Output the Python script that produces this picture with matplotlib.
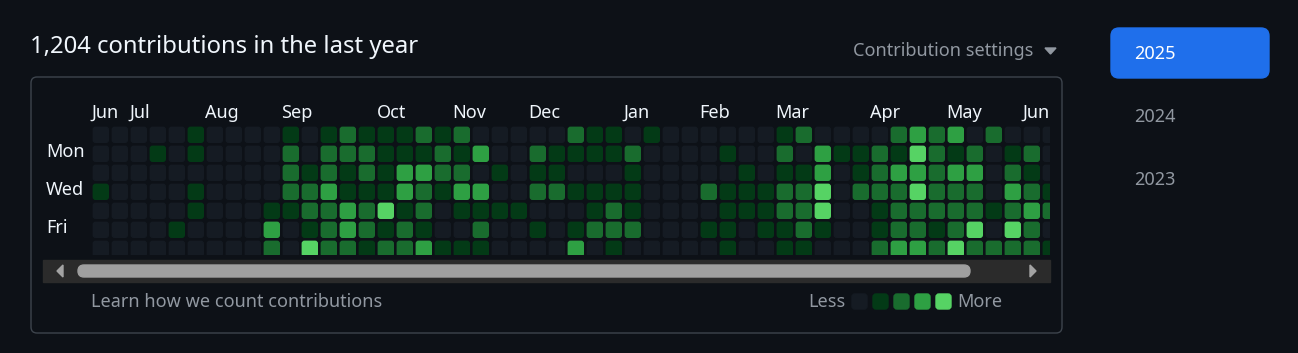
import matplotlib.pyplot as plt
from matplotlib.patches import FancyBboxPatch, Polygon

# contribution level (0-4) per weekday row, one digit per week column
sun = "0000010000" "1012111212" "0000021101" "0000001200" "0023230200" "0"
mon = "0001010000" "2022211121" "3002111120" "0001002031" "1214212012" "0"
tue = "0000000000" "2121213322" "0101100010" "0000101130" "1233233021" "0"
wed = "1000010000" "2231113213" "3002211110" "0021112240" "2224222032" "1"
thu = "0000010001" "1223241201" "1110001210" "0001112240" "0122222123" "2"
fri = "0000100003" "0123212100" "2001012220" "0011011210" "0122124042" "0"
sat = "0000000002" "0422122311" "1000030100" "0001001100" "0233242222" "1"
weekdays = [sun, mon, tue, wed, thu, fri, sat]

month_names = ["Jun", "Jul", "Aug", "Sep", "Oct", "Nov", "Dec", "Jan", "Feb", "Mar", "Apr", "May", "Jun"]
month_weeks = [0, 2, 6, 10, 15, 19, 23, 28, 32, 36, 41, 45, 49]
day_names = ["Mon", "Wed", "Fri"]
day_rows = [1, 3, 5]
years = ["2025", "2024", "2023"]

level_colors = ["#151b23", "#033a16", "#196c2e", "#2ea043", "#56d364"]
bg = "#0d1117"
fg = "#f0f6fc"
muted = "#9198a1"

plt.rcParams['font.family'] = ['Noto Sans', 'DejaVu Sans']

W, H = 1298, 353
fig = plt.figure(figsize=(W / 100, H / 100), dpi=100, facecolor=bg)

# page chrome, in pixel coordinates
ax0 = fig.add_axes([0, 0, 1, 1])
ax0.set_xlim(0, W)
ax0.set_ylim(H, 0)
ax0.axis('off')
ax0.set_facecolor(bg)

ax0.text(30, 47, "1,204 contributions in the last year", color=fg, fontsize=17.2,
         ha='left', va='center')
ax0.text(853, 51, "Contribution settings", color=muted, fontsize=13, ha='left', va='center')
ax0.add_patch(Polygon([[1045, 48], [1056, 48], [1050.5, 54]], closed=True, color=muted))

ax0.add_patch(FancyBboxPatch((31, 77), 1031, 256, boxstyle="round,pad=0,rounding_size=6",
                             facecolor=bg, edgecolor="#3d444d", linewidth=1))

# scrollbar
ax0.add_patch(plt.Rectangle((43, 260), 1007, 22, color="#2b2b2b"))
ax0.add_patch(FancyBboxPatch((78, 265), 892, 12, boxstyle="round,pad=0,rounding_size=6",
                             color="#9f9f9f"))
ax0.add_patch(Polygon([[57, 271], [63, 265], [63, 277]], closed=True, color="#a3a3a3"))
ax0.add_patch(Polygon([[1036, 271], [1030, 265], [1030, 277]], closed=True, color="#a3a3a3"))

ax0.text(91, 302, "Learn how we count contributions", color=muted, fontsize=13,
         ha='left', va='center')
ax0.text(846, 302, "Less", color=muted, fontsize=13, ha='right', va='center')
ax0.text(957, 302, "More", color=muted, fontsize=13, ha='left', va='center')
for i, c in enumerate(level_colors):
    ax0.add_patch(FancyBboxPatch((852 + 21 * i, 294), 15, 15,
                                 boxstyle="round,pad=0,rounding_size=3", color=c))

# year selector
ax0.add_patch(FancyBboxPatch((1111, 28), 158, 50, boxstyle="round,pad=0,rounding_size=8",
                             color="#1f6feb"))
for i, y in enumerate(years):
    ax0.text(1134, 54 + 63 * i, y, color="white" if i == 0 else muted, fontsize=13,
             ha='left', va='center')

# contribution grid, one data unit = one week / one day
pitch = 19
x_c0, y_r0 = 100.8, 134.8
left, right, top, bottom = 43, 1050, 120, 255
ax = fig.add_axes([left / W, 1 - bottom / H, (right - left) / W, (bottom - top) / H])
ax.set_xlim((left - x_c0) / pitch, (right - x_c0) / pitch)
ax.set_ylim((bottom - y_r0) / pitch, (top - y_r0) / pitch)
ax.axis('off')
ax.patch.set_alpha(0)

size = 15 / pitch
for r, row in enumerate(weekdays):
    for c, lv in enumerate(row):
        ax.add_patch(FancyBboxPatch((c - size / 2, r - size / 2), size, size,
                                    boxstyle="round,pad=0,rounding_size=0.12",
                                    color=level_colors[int(lv)]))

for name, wk in zip(month_names, month_weeks):
    ax.text(wk - size / 2 - 0.1, -1.15, name, color=fg, fontsize=13, ha='left', va='center',
            clip_on=False)
for name, r in zip(day_names, day_rows):
    ax.text((46 - x_c0) / pitch, r - 0.1, name, color=fg, fontsize=13, ha='left',
            va='center', clip_on=False)

fig.savefig("out.png", dpi=100, facecolor=bg)
